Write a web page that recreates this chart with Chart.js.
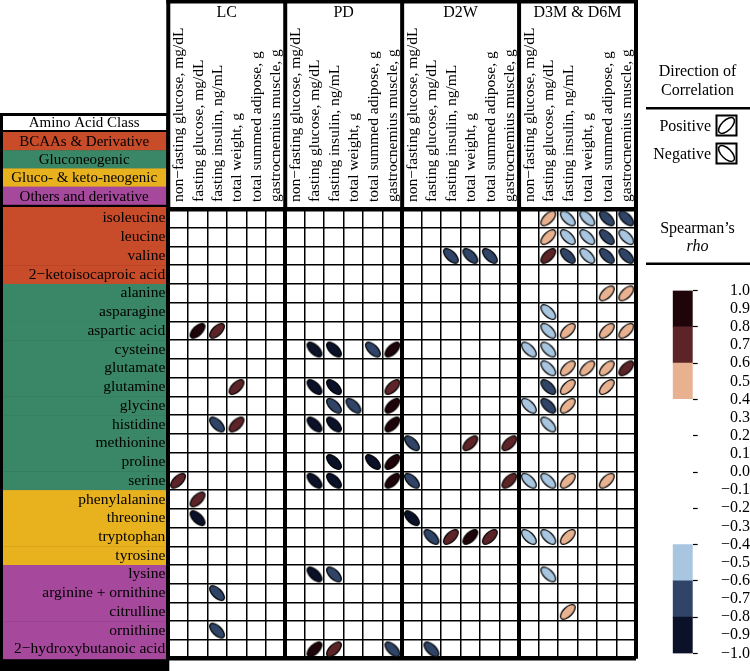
<!DOCTYPE html>
<html>
<head>
<meta charset="utf-8">
<script src="https://cdn.jsdelivr.net/npm/chart.js@4.4.1/dist/chart.umd.min.js"></script>
<style>
  html, body { margin: 0; padding: 0; background: #fff; }
  #wrap { position: relative; width: 750px; height: 671px; }
  #cb { position: absolute; left: 640px; top: 270px; }
</style>
</head>
<body>
<div id="wrap">
  <canvas id="matrix" width="750" height="671"></canvas>
  <canvas id="cb" width="110" height="404"></canvas>
</div>
<script>
const _ = null;

const groupLabels = ['LC', 'PD', 'D2W', 'D3M & D6M'];
const colLabels = ['non\u2212fasting glucose, mg/dL', 'fasting glucose, mg/dL', 'fasting insulin, ng/mL',
  'total weight, g', 'total summed adipose, g', 'gastrocnemius muscle, g'];

const rowLabels = ['isoleucine', 'leucine', 'valine', '2\u2212ketoisocaproic acid', 'alanine', 'asparagine',
  'aspartic acid', 'cysteine', 'glutamate', 'glutamine', 'glycine', 'histidine', 'methionine', 'proline',
  'serine', 'phenylalanine', 'threonine', 'tryptophan', 'tyrosine', 'lysine', 'arginine + ornithine',
  'citrulline', 'ornithine', '2\u2212hydroxybutanoic acid'];

const classLabels = ['BCAAs & Derivative', 'Gluconeogenic', 'Gluco- & keto-neogenic', 'Others and derivative'];
const classSizes = [4, 11, 4, 5];
const classColors = ['#c84b2a', '#3a8767', '#e8b11e', '#a6489c'];

// Spearman's rho per group, rows = amino acids, cols = colLabels (null = not shown)
const rhoLC = [
  [_, _, _, _, _, _], [_, _, _, _, _, _], [_, _, _, _, _, _], [_, _, _, _, _, _],
  [_, _, _, _, _, _], [_, _, _, _, _, _],
  [_, 0.87, 0.72, _, _, _],      // aspartic acid
  [_, _, _, _, _, _], [_, _, _, _, _, _],
  [_, _, _, 0.71, _, _],         // glutamine
  [_, _, _, _, _, _],
  [_, _, -0.68, 0.72, _, _],     // histidine
  [_, _, _, _, _, _], [_, _, _, _, _, _],
  [0.71, _, _, _, _, _],         // serine
  [_, 0.7, _, _, _, _],          // phenylalanine
  [_, -0.87, _, _, _, _],        // threonine
  [_, _, _, _, _, _], [_, _, _, _, _, _], [_, _, _, _, _, _],
  [_, _, -0.69, _, _, _],        // arginine + ornithine
  [_, _, _, _, _, _],
  [_, _, -0.68, _, _, _],        // ornithine
  [_, _, _, _, _, _]
];
const rhoPD = [
  [_, _, _, _, _, _], [_, _, _, _, _, _], [_, _, _, _, _, _], [_, _, _, _, _, _],
  [_, _, _, _, _, _], [_, _, _, _, _, _], [_, _, _, _, _, _],
  [_, -0.88, -0.86, _, -0.71, 0.86],   // cysteine
  [_, _, _, _, _, _],
  [_, -0.89, -0.87, _, _, 0.72],       // glutamine
  [_, _, -0.7, -0.69, _, 0.85],        // glycine
  [_, -0.88, -0.86, _, _, 0.87],       // histidine
  [_, _, _, _, _, _],
  [_, _, -0.86, _, -0.88, 0.86],       // proline
  [_, -0.88, -0.87, _, _, 0.86],       // serine
  [_, _, _, _, _, _], [_, _, _, _, _, _], [_, _, _, _, _, _], [_, _, _, _, _, _],
  [_, -0.87, -0.7, _, _, _],           // lysine
  [_, _, _, _, _, _], [_, _, _, _, _, _], [_, _, _, _, _, _],
  [_, 0.86, 0.71, _, _, -0.7]          // 2-hydroxybutanoic acid
];
const rhoD2W = [
  [_, _, _, _, _, _], [_, _, _, _, _, _],
  [_, _, -0.7, -0.71, -0.69, _],       // valine
  [_, _, _, _, _, _], [_, _, _, _, _, _], [_, _, _, _, _, _], [_, _, _, _, _, _],
  [_, _, _, _, _, _], [_, _, _, _, _, _], [_, _, _, _, _, _], [_, _, _, _, _, _],
  [_, _, _, _, _, _],
  [-0.7, _, _, 0.71, _, 0.7],          // methionine
  [_, _, _, _, _, _],
  [-0.69, _, _, _, _, 0.7],            // serine
  [_, _, _, _, _, _],
  [-0.87, _, _, _, _, _],              // threonine
  [_, -0.7, 0.72, 0.86, 0.71, _],      // tryptophan
  [_, _, _, _, _, _], [_, _, _, _, _, _], [_, _, _, _, _, _], [_, _, _, _, _, _],
  [_, _, _, _, _, _],
  [_, -0.69, _, _, _, _]               // 2-hydroxybutanoic acid
];
const rhoD3M = [
  [_, 0.52, -0.5, -0.52, -0.7, -0.69],   // isoleucine
  [_, 0.51, -0.52, -0.5, -0.71, -0.53],  // leucine
  [_, 0.68, -0.7, -0.52, -0.72, -0.7],   // valine
  [_, _, _, _, _, _],
  [_, _, _, _, 0.5, 0.52],               // alanine
  [_, -0.51, _, _, _, _],                // asparagine
  [_, -0.52, 0.5, _, 0.51, 0.5],         // aspartic acid
  [-0.5, -0.51, _, _, _, _],             // cysteine
  [_, -0.5, 0.52, 0.5, 0.51, 0.69],      // glutamate
  [_, -0.69, 0.5, _, 0.52, _],           // glutamine
  [-0.5, -0.7, 0.51, _, _, _],           // glycine
  [_, -0.51, _, _, _, _],                // histidine
  [_, _, _, _, _, _], [_, _, _, _, _, _],
  [-0.52, -0.5, 0.51, _, 0.5, _],        // serine
  [_, _, _, _, _, _], [_, _, _, _, _, _],
  [-0.5, -0.52, 0.5, _, _, _],           // tryptophan
  [_, _, _, _, _, _],
  [_, -0.5, _, _, _, _],                 // lysine
  [_, _, _, _, _, _],
  [_, _, 0.51, _, _, _],                 // citrulline
  [_, _, _, _, _, _], [_, _, _, _, _, _]
];

// colour bins of the Spearman's rho scale
const binEdges = [-1, -0.8, -0.6, -0.4, 0.4, 0.6, 0.8, 1];
const binColors = ['#0a1128', '#2f4467', '#a9c6e0', '#ffffff', '#e8b290', '#5d2428', '#1f050a'];

const FONT = "'Liberation Serif', 'DejaVu Serif', serif";
Chart.defaults.font.family = FONT;
Chart.defaults.color = '#000';

const xKeys = [];
groupLabels.forEach(g => colLabels.forEach(c => xKeys.push(g + '|' + c)));

const rowClass = [];
classSizes.forEach((n, k) => { for (let i = 0; i < n; i++) rowClass.push(k); });

function binColor(v) {
  for (let i = 0; i < binColors.length; i++) {
    if (v >= binEdges[i] && v < binEdges[i + 1]) return binColors[i];
  }
  return binColors[binColors.length - 1];
}

const imgCache = {};
function ellipseImage(color, positive) {
  const key = color + positive;
  if (imgCache[key]) return imgCache[key];
  const c = document.createElement('canvas');
  c.width = 24; c.height = 24;
  const g = c.getContext('2d');
  g.beginPath();
  g.ellipse(12, 12, 9.4, 4.6, positive ? -Math.PI / 4 : Math.PI / 4, 0, Math.PI * 2);
  g.fillStyle = color;
  g.fill();
  g.lineWidth = 1.3;
  g.strokeStyle = '#000';
  g.stroke();
  imgCache[key] = c;
  return c;
}

const points = [];
[rhoLC, rhoPD, rhoD2W, rhoD3M].forEach((m, gi) => {
  m.forEach((row, r) => row.forEach((v, c) => {
    if (v !== null) points.push({ x: xKeys[gi * 6 + c], y: rowLabels[r], v: v });
  }));
});

const decor = {
  id: 'decor',
  beforeDraw(chart) {
    const { ctx, scales: { x, y } } = chart;
    const left = x.getPixelForValue(-0.5);
    const H = chart.height;
    const panelTop = 113;
    ctx.save();
    ctx.fillStyle = '#000';
    ctx.fillRect(0, panelTop, left + 1, H - panelTop);
    ctx.fillStyle = '#fff';
    ctx.fillRect(3, panelTop + 3, left - 5, 14);
    ctx.font = '15px ' + FONT;
    ctx.textAlign = 'center';
    ctx.textBaseline = 'middle';
    ctx.fillStyle = '#000';
    ctx.fillText('Amino Acid Class', left / 2, panelTop + 10);
    const bandTop = 132, bandH = 18.2;
    classLabels.forEach((lab, k) => {
      ctx.fillStyle = classColors[k];
      ctx.fillRect(3, bandTop + k * bandH, left - 5, bandH + (k < 3 ? 0.5 : 0));
      ctx.fillStyle = '#000';
      ctx.fillText(lab, left / 2, bandTop + k * bandH + bandH / 2 + 1);
    });
    rowLabels.forEach((lab, r) => {
      let y0 = y.getPixelForValue(r - 0.5);
      const y1 = y.getPixelForValue(r + 0.5);
      if (r === 0) y0 -= 2;
      ctx.fillStyle = classColors[rowClass[r]];
      ctx.fillRect(3, y0, left - 5, y1 - y0 + 0.5);
    });
    ctx.restore();
  },
  afterDraw(chart) {
    const { ctx, scales: { x }, chartArea } = chart;
    ctx.save();
    ctx.fillStyle = '#000';
    const l = x.getPixelForValue(-0.5), r = x.getPixelForValue(xKeys.length - 0.5);
    ctx.fillRect(l - 2, 0, r - l + 4, 3.5);
    for (let g = 0; g <= groupLabels.length; g++) {
      const gx = x.getPixelForValue(g * colLabels.length - 0.5);
      ctx.fillRect(gx - 2, 0, 4, chartArea.top);
    }
    ctx.font = '16px ' + FONT;
    ctx.textAlign = 'center';
    ctx.textBaseline = 'middle';
    groupLabels.forEach((lab, g) => {
      const a = x.getPixelForValue(g * 6 - 0.5), b = x.getPixelForValue(g * 6 + 5.5);
      ctx.fillText(lab, (a + b) / 2, 13);
    });

    // direction legend
    const cx = 697.5;
    ctx.fillText('Direction of', cx, 72);
    ctx.fillText('Correlation', cx, 91);
    ctx.fillRect(646, 107, 104, 2.5);
    ctx.textAlign = 'right';
    [['Positive', true, 125.5], ['Negative', false, 153.5]].forEach(([t, pos, ty]) => {
      ctx.fillStyle = '#000';
      ctx.fillText(t, 711, ty + 1);
      ctx.lineWidth = 2;
      ctx.strokeStyle = '#000';
      ctx.strokeRect(716.5, ty - 10, 20, 20);
      ctx.beginPath();
      ctx.ellipse(726.5, ty, 10, 5, pos ? -Math.PI / 4 : Math.PI / 4, 0, Math.PI * 2);
      ctx.fillStyle = '#fff';
      ctx.fill();
      ctx.lineWidth = 1.5;
      ctx.stroke();
    });
    ctx.fillStyle = '#000';
    ctx.textAlign = 'center';
    ctx.fillText('Spearman\u2019s', cx, 229);
    ctx.font = 'italic 16px ' + FONT;
    ctx.fillText('rho', cx, 247);
    ctx.fillRect(646, 262.5, 104, 2.5);
    ctx.restore();
  }
};

new Chart(document.getElementById('matrix'), {
  type: 'scatter',
  data: {
    datasets: [{
      data: points,
      pointStyle: c => ellipseImage(binColor(c.raw.v), c.raw.v > 0),
      pointRadius: 10,
      pointHoverRadius: 10,
      clip: false
    }]
  },
  options: {
    responsive: false,
    animation: false,
    events: [],
    layout: { padding: { left: 0, top: 0, right: 114, bottom: 3 } },
    plugins: { legend: { display: false }, tooltip: { enabled: false } },
    scales: {
      x: {
        type: 'category',
        labels: xKeys,
        position: 'top',
        offset: true,
        afterFit: s => { s.height = 209; },
        border: { display: false },
        grid: {
          offset: true,
          drawTicks: false,
          color: '#000',
          lineWidth: c => (c.index === undefined || c.index % 6 === 0) ? 4 : 1.5
        },
        ticks: {
          autoSkip: false,
          minRotation: 90,
          maxRotation: 90,
          padding: 7,
          labelOffset: 19.5,
          font: { size: 15.5 },
          callback: function (v) { return this.getLabelForValue(v).split('|')[1]; }
        }
      },
      y: {
        type: 'category',
        labels: rowLabels,
        offset: true,
        afterFit: s => { s.width = 168.3; },
        border: { display: false },
        grid: {
          offset: true,
          drawTicks: false,
          color: '#000',
          lineWidth: c => (c.index === undefined || c.index === 0) ? 4.5 : 1.5
        },
        ticks: { autoSkip: false, padding: 3, font: { size: 15.5 } }
      }
    }
  },
  plugins: [decor]
});

// colour bar
new Chart(document.getElementById('cb'), {
  type: 'bar',
  data: {
    labels: [''],
    datasets: binColors.map((c, i) => ({
      data: [[binEdges[i], binEdges[i + 1]]],
      backgroundColor: c,
      borderWidth: 0,
      barPercentage: 1,
      categoryPercentage: 1,
      grouped: false
    }))
  },
  options: {
    responsive: false,
    animation: false,
    events: [],
    layout: { padding: { left: 32.7, top: 10, right: 0, bottom: 10.7 } },
    plugins: { legend: { display: false }, tooltip: { enabled: false } },
    scales: {
      x: { display: false },
      y: {
        position: 'right',
        min: -1,
        max: 1,
        afterFit: s => { s.width = 57.3; },
        border: { display: false },
        grid: {
          drawOnChartArea: false,
          tickLength: 5,
          tickWidth: 1.2,
          tickColor: c => Math.round(c.tick.value * 10) % 2 === 0 ? '#000' : 'rgba(0,0,0,0)'
        },
        ticks: {
          stepSize: 0.1,
          autoSkip: false,
          crossAlign: 'far',
          padding: 11,
          font: { size: 16 },
          callback: v => {
            const r = Math.round(v * 10) / 10;
            return r < 0 ? '\u2212' + Math.abs(r).toFixed(1) : r.toFixed(1);
          }
        }
      }
    }
  }
});
</script>
</body>
</html>
